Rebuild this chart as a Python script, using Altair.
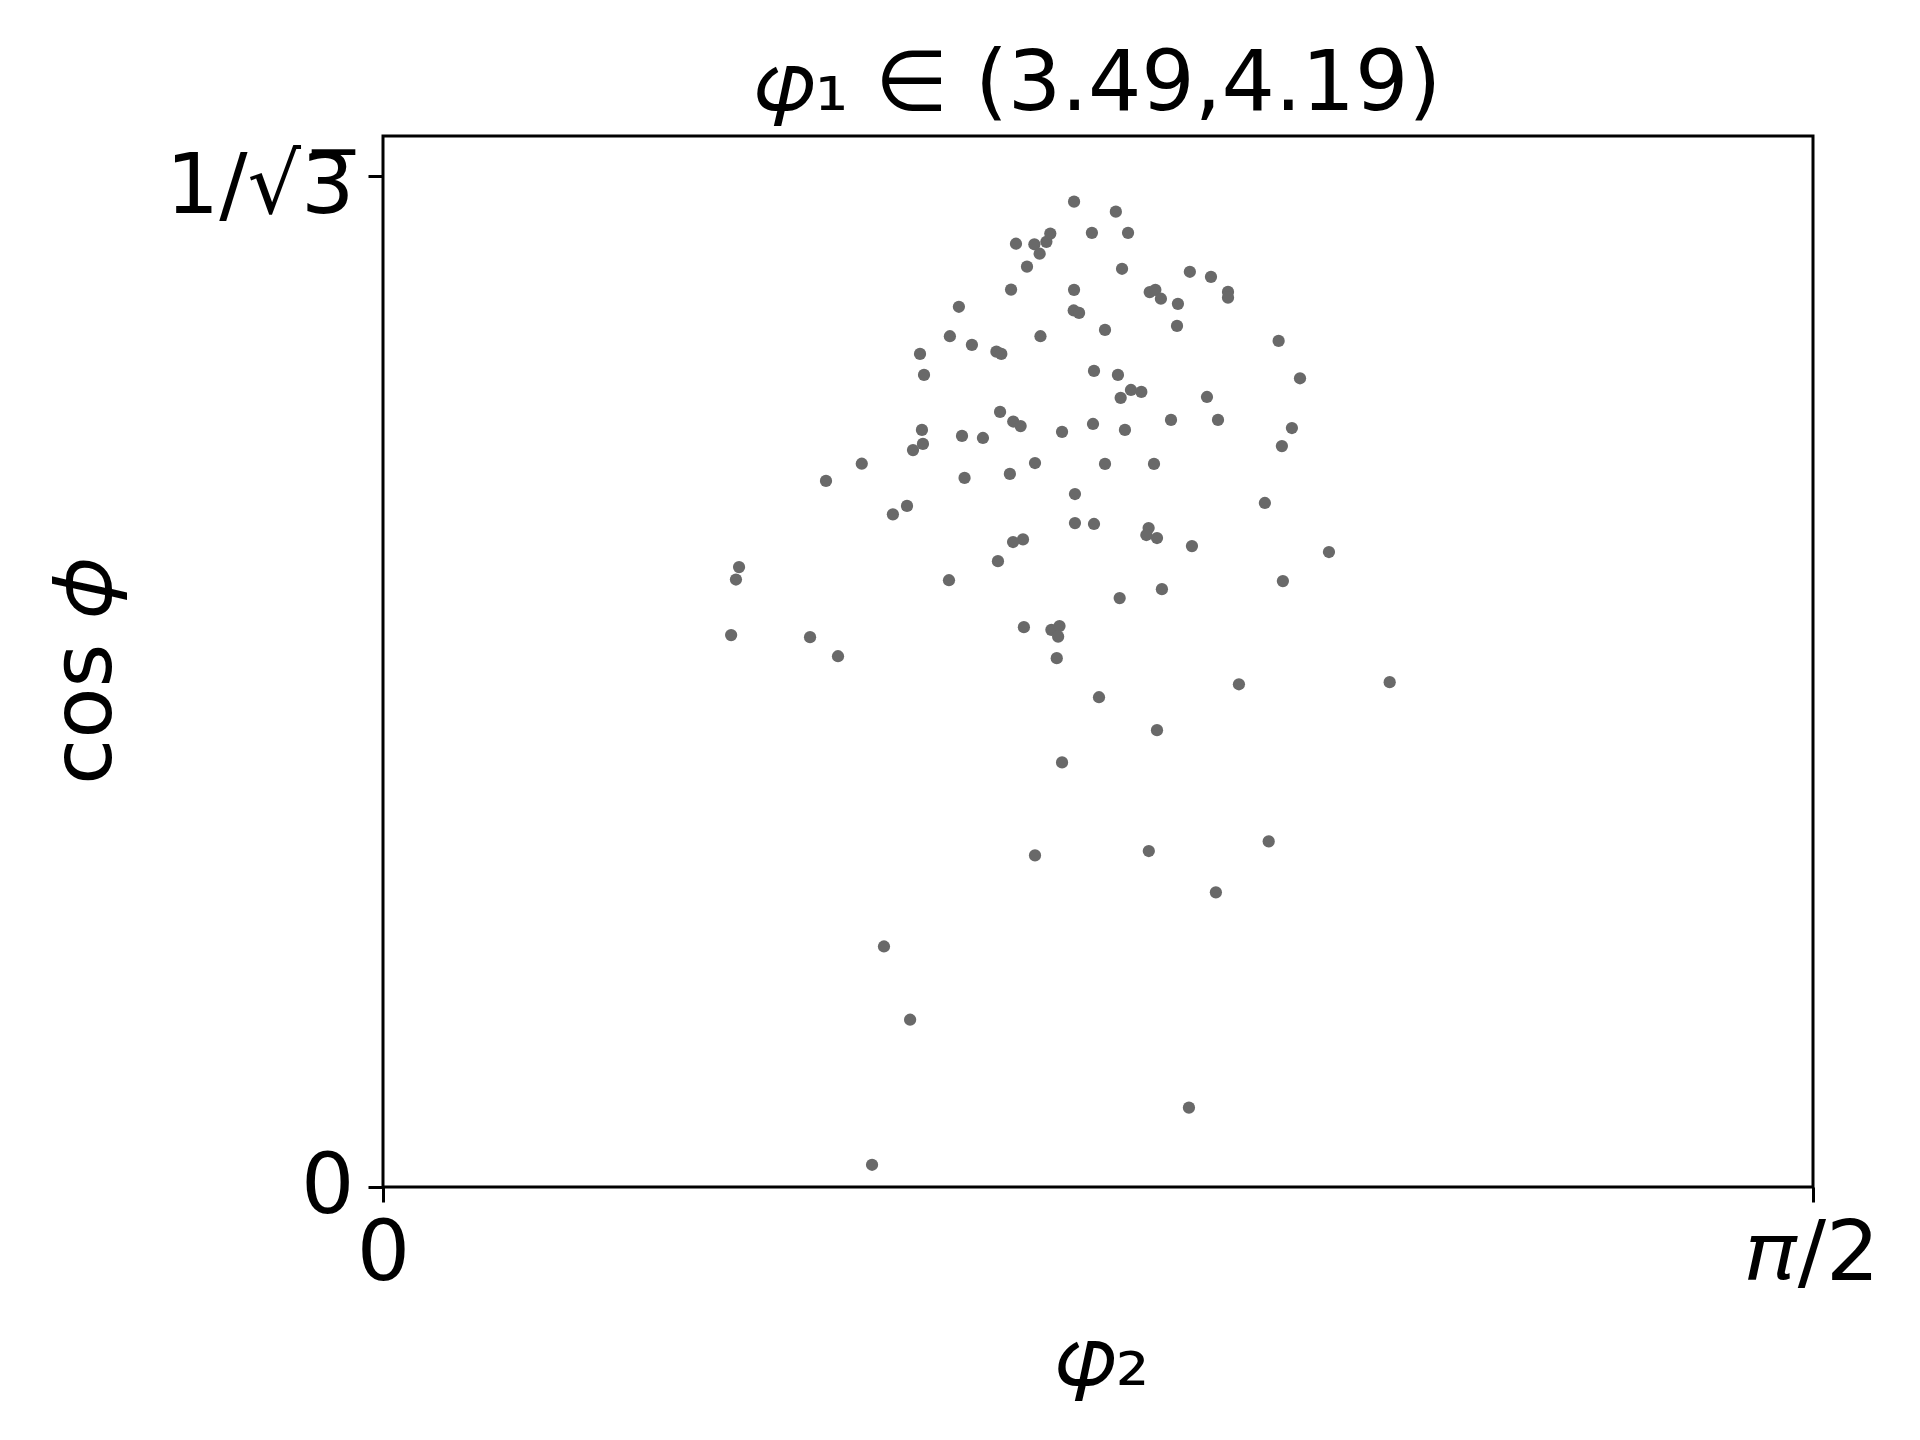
import math
import altair as alt
import pandas as pd

# phi_2 (radians) and cos(phi)
phi2 = [0.7591, 0.8050, 0.6953, 0.7155, 0.7287, 0.7330, 0.7787, 0.8184, 0.7213, 0.7074,
        0.8118, 0.8863, 0.9095, 0.6899, 0.7591, 0.8422, 0.8484, 0.8545, 0.8732, 0.9282,
        0.9282, 0.6326, 0.7587, 0.7646, 0.8722, 0.7931, 0.6227, 0.7222, 0.6469, 0.9838,
        0.5899, 0.6738, 0.6792, 0.7810, 0.5943, 0.8073, 1.0073, 0.8216, 0.8330, 0.8103,
        0.9051, 0.6778, 0.6923, 0.7004, 0.8656, 0.9172, 0.7799, 0.5920, 0.7459, 0.8150,
        0.9984, 0.6360, 0.6590, 0.5931, 0.5822, 0.9874, 0.5259, 0.7162, 0.7931, 0.8469,
        0.4866, 0.6388, 0.6886, 0.7601, 0.9687, 0.5756, 0.5601, 0.7601, 0.7810, 0.8410,
        0.8385, 0.8502, 0.7030, 0.6921, 0.8886, 1.0391, 0.6755, 0.3911, 0.3877, 0.6217,
        0.9885, 0.8556, 0.8092, 0.7040, 0.7342, 0.7431, 0.7416, 0.3824, 0.4691, 0.4998,
        0.7401, 0.9402, 1.1058, 0.7865, 0.8502, 0.7459, 0.9729, 0.8412, 0.7162, 0.9149,
        0.5503, 0.5790, 0.8853, 0.5372]
cosphi = [0.5625, 0.5568, 0.5385, 0.5382, 0.5396, 0.5443, 0.5447, 0.5447, 0.5328, 0.5254,
          0.5242, 0.5225, 0.5196, 0.5123, 0.5122, 0.5109, 0.5122, 0.5071, 0.5042, 0.5110,
          0.5077, 0.5025, 0.5004, 0.4990, 0.4916, 0.4893, 0.4857, 0.4857, 0.4808, 0.4830,
          0.4756, 0.4769, 0.4756, 0.4659, 0.4636, 0.4636, 0.4617, 0.4550, 0.4539, 0.4505,
          0.4510, 0.4425, 0.4370, 0.4344, 0.4379, 0.4379, 0.4356, 0.4322, 0.4311, 0.4322,
          0.4333, 0.4288, 0.4276, 0.4242, 0.4207, 0.4230, 0.4129, 0.4133, 0.4128, 0.4128,
          0.4031, 0.4048, 0.4071, 0.3956, 0.3905, 0.3888, 0.3840, 0.3790, 0.3785, 0.3762,
          0.3722, 0.3705, 0.3697, 0.3682, 0.3659, 0.3625, 0.3573, 0.3539, 0.3468, 0.3464,
          0.3459, 0.3413, 0.3362, 0.3196, 0.3181, 0.3202, 0.3142, 0.3151, 0.3139, 0.3030,
          0.3019, 0.2870, 0.2882, 0.2796, 0.2608, 0.2424, 0.1973, 0.1918, 0.1893, 0.1682,
          0.1373, 0.0955, 0.0453, 0.0127]

title_text = "𝜑₁ ∈ (3.49,4.19)"
x_title = "𝜑₂"
y_title = "cos 𝜙"
x_tick_values = [0.0, math.pi / 2]
y_tick_values = [0.0, 1 / math.sqrt(3)]
y_max = 0.6

df = pd.DataFrame({"phi2": phi2, "cosphi": cosphi})

FONT = "DejaVu Sans"
FS = 84

x_axis = alt.Axis(
    values=x_tick_values,
    labelExpr="datum.value < 0.1 ? '0' : '𝜋/2'",
    title=x_title,
    titleFont=FONT, titleFontSize=FS, titleFontWeight="normal", titleColor="black",
    titleX=719, titleY=197, titleBaseline="alphabetic", titleAlign="center",
    labelFont=FONT, labelFontSize=FS, labelColor="black",
    labelPadding=11, labelFlush=False, labelOverlap=False, labelLimit=600,
    tickSize=15, tickWidth=3, tickColor="black",
    domain=False, grid=False,
)
y_axis = alt.Axis(
    values=y_tick_values,
    labelExpr="datum.value < 0.1 ? '0' : '1/√3̅'",
    title=y_title,
    titleFont=FONT, titleFontSize=FS, titleFontWeight="normal", titleColor="black",
    titleX=-273, titleY=535, titleBaseline="alphabetic", titleAlign="center", titleAngle=270,
    labelFont=FONT, labelFontSize=FS, labelColor="black",
    labelPadding=14, labelFlush=False, labelOverlap=False, labelLimit=600,
    labelOffset={"condition": {"test": "datum.value > 0.1", "value": 12}, "value": 0},
    tickSize=15, tickWidth=3, tickColor="black",
    domain=False, grid=False,
)

chart = (
    alt.Chart(df)
    .mark_circle(size=150, color="#696969", opacity=1)
    .encode(
        x=alt.X("phi2:Q", scale=alt.Scale(domain=[0, math.pi / 2], nice=False, zero=False), axis=x_axis),
        y=alt.Y("cosphi:Q", scale=alt.Scale(domain=[0, y_max], nice=False, zero=False), axis=y_axis),
    )
    .properties(
        width=1430,
        height=1051,
        title=alt.Title(title_text, font=FONT, fontSize=FS, fontWeight="normal", color="black",
                        anchor="middle", frame="group", baseline="alphabetic", offset=24, dy=82),
        autosize=alt.AutoSizeParams(type="none"),
        padding={"left": 375, "top": 128, "right": 90, "bottom": 230},
        background="white",
    )
    .configure_view(stroke="black", strokeWidth=3)
)

chart.save("out.html", embed_options={"renderer": "svg", "actions": False})
